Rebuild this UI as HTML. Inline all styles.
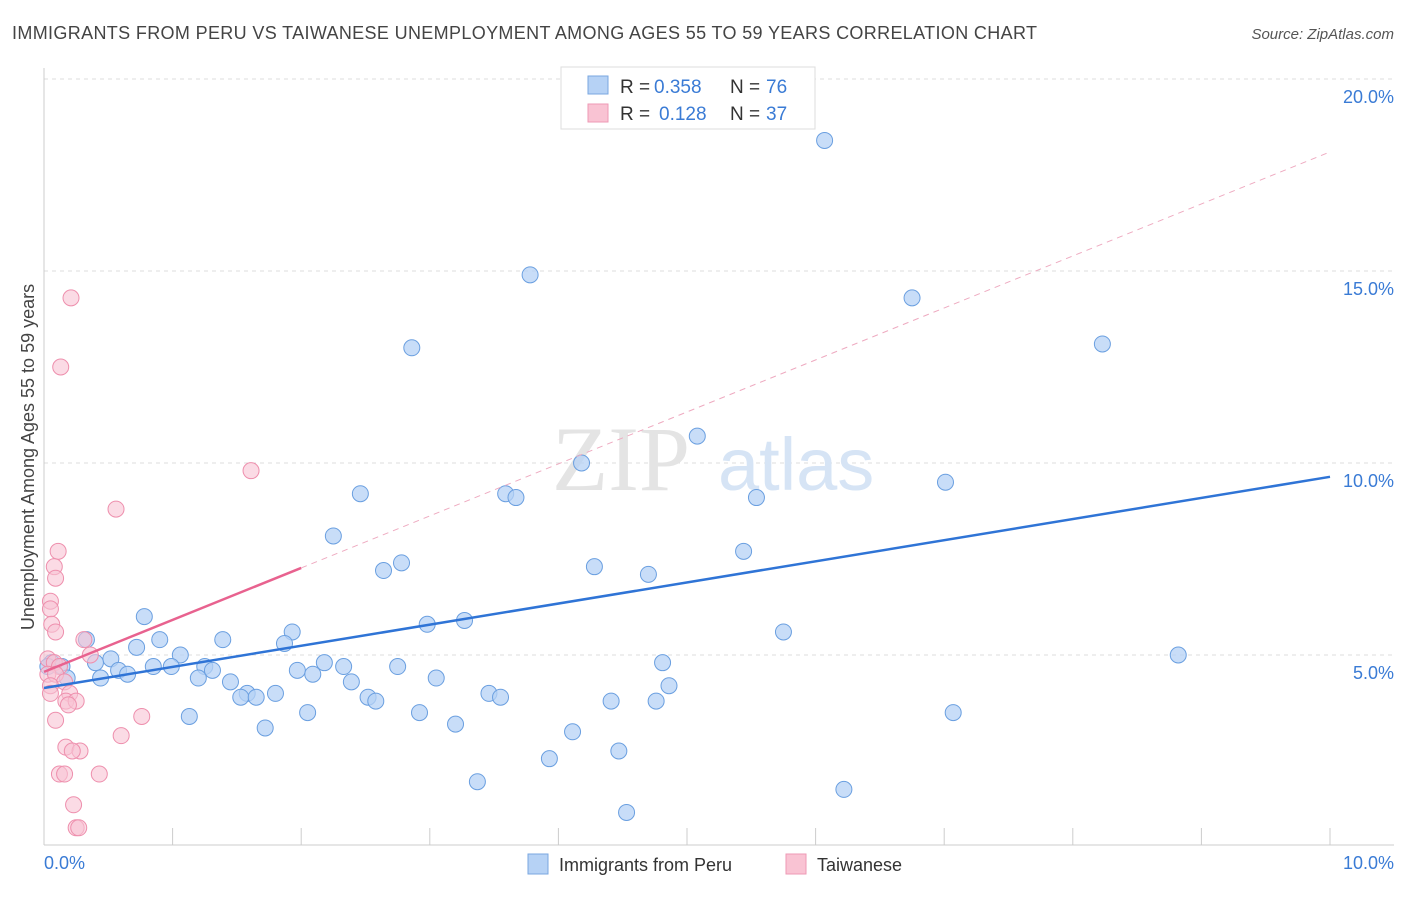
<!DOCTYPE html>
<html><head><meta charset="utf-8"><style>
body{margin:0;background:#fff;font-family:"Liberation Sans",sans-serif;}
</style></head><body>
<svg width="1406" height="892" xmlns="http://www.w3.org/2000/svg" font-family="Liberation Sans, sans-serif">
<text x="12" y="39" font-size="18" fill="#444" textLength="1025">IMMIGRANTS FROM PERU VS TAIWANESE UNEMPLOYMENT AMONG AGES 55 TO 59 YEARS CORRELATION CHART</text>
<text x="1394" y="39" font-size="15" fill="#555" text-anchor="end" font-style="italic">Source: ZipAtlas.com</text>
<g id="grid"></g>
<text x="552" y="490" font-size="92" fill="#e4e4e4" font-family="Liberation Serif, serif">ZIP</text>
<text x="718" y="490" font-size="74" fill="#d6e4f5">atlas</text>
<g id="axes"></g>
<g id="pts"></g>
<g id="lines"></g>
<text transform="translate(34,457) rotate(-90)" font-size="18" fill="#444" text-anchor="middle">Unemployment Among Ages 55 to 59 years</text>
<text x="44" y="869" font-size="18" fill="#3a7bd5">0.0%</text>
<text x="1394" y="869" font-size="18" fill="#3a7bd5" text-anchor="end">10.0%</text>
<g>
<rect x="561" y="67" width="254" height="62" fill="#fff" stroke="#ddd"/>
<rect x="588" y="76" width="20" height="18" fill="#b6d2f5" stroke="#7aa7e0"/>
<rect x="588" y="104" width="20" height="18" fill="#f9c3d3" stroke="#ee9ab4"/>
<text x="620" y="93" font-size="19" fill="#333">R =</text>
<text x="654" y="93" font-size="19" fill="#3a7bd5">0.358</text>
<text x="730" y="93" font-size="19" fill="#333">N =</text>
<text x="766" y="93" font-size="19" fill="#3a7bd5">76</text>
<text x="620" y="120" font-size="19" fill="#333">R =</text>
<text x="659" y="120" font-size="19" fill="#3a7bd5">0.128</text>
<text x="730" y="120" font-size="19" fill="#333">N =</text>
<text x="766" y="120" font-size="19" fill="#3a7bd5">37</text>
</g>
<g>
<rect x="528" y="854" width="20" height="20" fill="#b6d2f5" stroke="#7aa7e0"/>
<text x="559" y="871" font-size="18" fill="#333">Immigrants from Peru</text>
<rect x="786" y="854" width="20" height="20" fill="#f9c3d3" stroke="#ee9ab4"/>
<text x="817" y="871" font-size="18" fill="#333">Taiwanese</text>
</g>
</svg>
<script>
const yTicks=[5,10,15,20];
const yTickLabels=["5.0%","10.0%","15.0%","20.0%"];
const xTicks=[0,1,2,3,4,5,6,7,8,9,10];
const peruX=[6.07,3.78,6.75,8.23,2.86,5.08,4.18,7.01,2.46,3.59,3.67,5.54,2.25,5.44,2.78,2.64,4.28,4.70,0.78,3.27,2.98,5.75,1.93,0.33,1.39,0.90,0.72,1.87,1.06,0.52,8.82,2.18,0.06,0.14,0.40,4.81,0.85,0.99,1.25,1.31,1.97,2.33,2.75,2.09,0.58,0.65,0.44,0.18,3.05,1.20,1.45,2.39,4.86,1.58,1.80,1.53,1.65,3.46,3.55,2.52,2.58,4.41,4.76,2.05,2.92,7.07,1.13,3.20,1.72,4.11,4.47,3.93,3.37,6.22,4.53,0.03];
const peruY=[18.4,14.9,14.3,13.1,13.0,10.7,10.0,9.5,9.2,9.2,9.1,9.1,8.1,7.7,7.4,7.2,7.3,7.1,6.0,5.9,5.8,5.6,5.6,5.4,5.4,5.4,5.2,5.3,5.0,4.9,5.0,4.8,4.8,4.7,4.8,4.8,4.7,4.7,4.7,4.6,4.6,4.7,4.7,4.5,4.6,4.5,4.4,4.4,4.4,4.4,4.3,4.3,4.2,4.0,4.0,3.9,3.9,4.0,3.9,3.9,3.8,3.8,3.8,3.5,3.5,3.5,3.4,3.2,3.1,3.0,2.5,2.3,1.7,1.5,0.9,4.7];
const taiX=[0.21,0.13,1.61,0.56,0.11,0.08,0.09,0.05,0.05,0.06,0.09,0.31,0.36,0.03,0.08,0.12,0.03,0.09,0.16,0.05,0.20,0.17,0.25,0.19,0.76,0.09,0.60,0.17,0.28,0.22,0.43,0.12,0.16,0.23,0.25,0.27,0.05];
const taiY=[14.3,12.5,9.8,8.8,7.7,7.3,7.0,6.4,6.2,5.8,5.6,5.4,5.0,4.9,4.8,4.7,4.5,4.5,4.3,4.2,4.0,3.8,3.8,3.7,3.4,3.3,2.9,2.6,2.5,2.5,1.9,1.9,1.9,1.1,0.5,0.5,4.0];
const peruTrend=[4.14,9.64];
const taiTrend=[4.56,18.1];
const X=v=>44+v*128.6, Y=v=>847-v*38.4;
const NS="http://www.w3.org/2000/svg";
function mk(t,a,p){const e=document.createElementNS(NS,t);for(const k in a)e.setAttribute(k,a[k]);p.appendChild(e);return e;}
const grid=document.getElementById('grid'),axes=document.getElementById('axes'),pts=document.getElementById('pts'),lines=document.getElementById('lines');
yTicks.forEach((t,i)=>{
 const l=mk('line',{x1:44,x2:1394,y1:Y(t),y2:Y(t),stroke:'#ddd','stroke-dasharray':'4,4'},grid);
 
 
 const tx=mk('text',{x:1394,y:Y(t)+24,'font-size':18,fill:'#3a7bd5','text-anchor':'end'},grid);
 tx.textContent=yTickLabels[i];
 
 
});
mk('line',{x1:44,x2:44,y1:68,y2:845,stroke:'#ccc'},axes);
mk('line',{x1:44,x2:1394,y1:845,y2:845,stroke:'#ccc'},axes);
xTicks.forEach(t=>{const l=mk('line',{x1:X(t),x2:X(t),y1:828,y2:845,stroke:'#ccc'},axes);
 
 });
peruX.forEach((v,i)=>{const c=mk('circle',{cx:X(v),cy:Y(peruY[i]),r:8,fill:'#b6d2f5','fill-opacity':0.75,stroke:'#6a9fe0','stroke-width':1},pts);
 
 });
taiX.forEach((v,i)=>{const c=mk('circle',{cx:X(v),cy:Y(taiY[i]),r:8,fill:'#f9c3d3','fill-opacity':0.6,stroke:'#ee8fad','stroke-width':1},pts);
 
 });
const bl=mk('line',{x1:X(0),y1:Y(peruTrend[0]),x2:X(10),y2:Y(peruTrend[1]),stroke:'#2f74d6','stroke-width':2.5},lines);


const ty=x=>taiTrend[0]+(taiTrend[1]-taiTrend[0])*x/10;
const pd=mk('line',{x1:X(2),y1:Y(ty(2)),x2:X(10),y2:Y(ty(10)),stroke:'#eeaac0','stroke-width':1,'stroke-dasharray':'6,5'},lines);


const ps=mk('line',{x1:X(0),y1:Y(ty(0)),x2:X(2),y2:Y(ty(2)),stroke:'#e8628f','stroke-width':2.5},lines);


</script>
</body></html>
